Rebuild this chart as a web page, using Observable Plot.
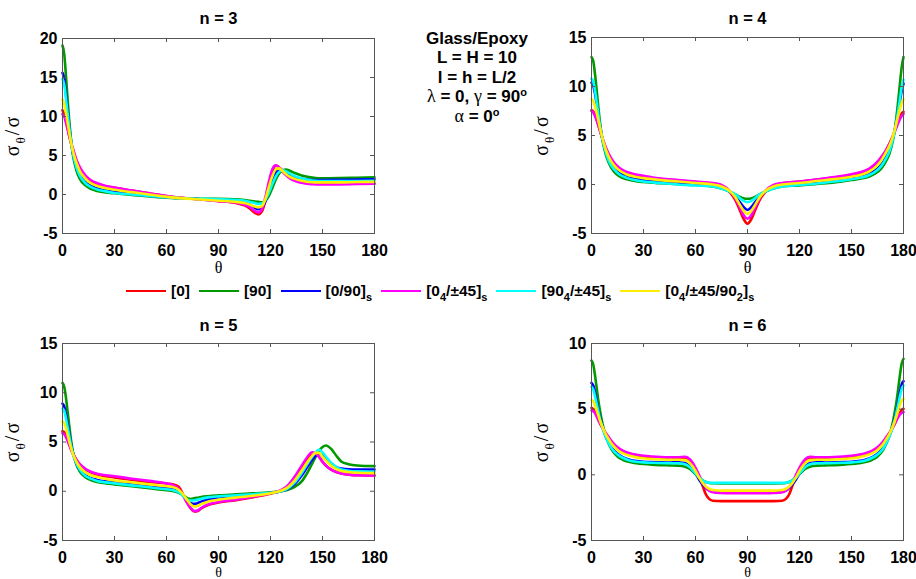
<!DOCTYPE html>
<html><head><meta charset="utf-8">
<script src="https://cdn.jsdelivr.net/npm/d3@7"></script>
<script src="https://cdn.jsdelivr.net/npm/@observablehq/plot@0.6"></script>
<style>
body{margin:0;background:#fff;}
#fig{position:relative;width:916px;height:579px;overflow:hidden;background:#fff;font-family:"Liberation Sans",Arial,sans-serif;color:#000;}
.panel{position:absolute;}
#legend{position:absolute;left:126px;top:281px;height:20px;display:flex;align-items:center;font-weight:bold;font-size:15.5px;white-space:nowrap;}
#legend .item{display:flex;align-items:center;margin-right:9px;}
#legend .sw{display:inline-block;width:40px;height:2.5px;margin-right:5px;}
#legend sub{font-size:11px;vertical-align:-5px;line-height:0;}
#note{position:absolute;left:377px;width:200px;top:29px;text-align:center;font-weight:bold;font-size:17px;line-height:19.4px;}
#note div{height:19.4px;}
#note .gr{font-family:"Liberation Serif",serif;font-weight:normal;font-size:18px;line-height:0;}
#note sup{font-size:11px;vertical-align:6px;line-height:0;}
</style></head><body><div id="fig"></div>
<script>
// ---------- data ----------
const seriesLabels = ["[0]","[90]","[0/90]<sub>s</sub>","[0<sub>4</sub>/±45]<sub>s</sub>","[90<sub>4</sub>/±45]<sub>s</sub>","[0<sub>4</sub>/±45/90<sub>2</sub>]<sub>s</sub>"];
const seriesColors = ["#ff0000","#009900","#0000ff","#ff00ff","#00ffff","#ffee00"];
const xTicks = [0,30,60,90,120,150,180];

// n = 3
const theta3 = [0,1,2,3,4,5,6,8,10,13,16,20,25,30,40,50,60,70,80,90,100,105,108,111,113,115,117,119,121,123,125,127,129,131,134,138,142,146,150,160,170,180];
const n3Red =     [10.8,10.3,9.4,8.4,7.4,6.5,5.7, 4.3,3.3,2.3,1.75,1.35,1.05,0.85, 0.5,0.15,-0.2,-0.45,-0.65,-0.85,-1.1, -1.4,-1.8,-2.35,-2.55,-2.2,-0.8,1.2, 2.9,3.7,3.5,3.0,2.6,2.25,1.9, 1.6,1.45,1.4,1.38,1.38,1.4,1.42];
const n3Green =   [19.1,18.0,15.2,12.0,9.2,6.9,5.1, 3.1,2.0,1.2,0.75,0.45,0.25,0.15, -0.05,-0.25,-0.4,-0.5,-0.55,-0.55,-0.6, -0.7,-0.8,-0.9,-0.95,-1.0,-0.8,-0.2, 0.8,1.9,2.7,3.1,3.2,3.05,2.75, 2.45,2.25,2.12,2.08,2.1,2.15,2.2];
const n3Blue =    [15.6,14.8,12.8,10.6,8.5,6.7,5.3, 3.6,2.5,1.6,1.15,0.8,0.5,0.35, 0.1,-0.15,-0.35,-0.5,-0.6,-0.75,-0.9, -1.05,-1.3,-1.7,-1.9,-1.7,-0.9,0.4, 1.8,2.8,3.25,3.1,2.8,2.5,2.2, 2.0,1.9,1.85,1.85,1.88,1.92,1.95];
const n3Magenta = [10.3,10.0,9.2,8.3,7.4,6.6,5.9, 4.5,3.5,2.5,1.9,1.45,1.1,0.9, 0.5,0.15,-0.2,-0.45,-0.65,-0.85,-1.05, -1.3,-1.6,-2.1,-2.3,-1.9,-0.4,1.6, 3.2,3.75,3.4,2.9,2.45,2.1,1.75, 1.5,1.35,1.3,1.28,1.3,1.35,1.38];
const n3Cyan =    [14.8,14.1,12.3,10.3,8.4,6.7,5.3, 3.5,2.4,1.5,1.0,0.65,0.4,0.2, 0.0,-0.2,-0.35,-0.5,-0.55,-0.6,-0.7, -0.8,-0.95,-1.1,-1.2,-1.15,-0.7,0.2, 1.3,2.3,2.9,3.1,2.95,2.7,2.35, 2.05,1.85,1.75,1.72,1.72,1.74,1.75];
const n3Yellow =  [12.2,11.6,10.4,9.1,7.8,6.6,5.6, 4.1,3.0,2.1,1.5,1.1,0.8,0.6, 0.3,0.0,-0.3,-0.5,-0.65,-0.8,-0.95, -1.1,-1.3,-1.55,-1.65,-1.5,-0.6,0.9, 2.3,3.2,3.35,3.0,2.6,2.3,2.0, 1.75,1.6,1.55,1.55,1.55,1.6,1.62];

// n = 4
const theta4 = [0,1,2,3,4,5,6,8,10,13,16,20,25,30,40,50,60,70,75,80,83,86,88,90,92,94,97,100,105,110,120,130,140,150,155,160,164,167,170,172,174,175,176,177,178,179,180];
const n4Red =     [7.6,7.45,7.1,6.6,6.0,5.4,4.85, 3.8,3.0,2.15,1.6,1.2,0.95,0.8, 0.55,0.4,0.25,0.1,-0.1,-0.8,-1.6, -2.8,-3.6,-4.0, -3.6,-2.8,-1.6,-0.8,-0.1,0.1,0.3,0.5,0.7,1.0,1.2,1.55,2.1,2.7,3.5,4.2,5.0,5.5,6.0,6.5,6.9,7.25,7.4];
const n4Green =   [13.0,12.6,11.3,9.6,7.8,6.2,4.9, 3.2,2.2,1.3,0.85,0.55,0.35,0.25, 0.12,0.02,-0.05,-0.2,-0.4,-0.75,-1.0, -1.3,-1.42,-1.46, -1.42,-1.3,-1.0,-0.75,-0.4,-0.2,-0.1,0.05,0.2,0.45,0.6,0.8,1.15,1.6,2.4,3.2,4.6,5.6,7.0,8.6,10.4,12.0,13.0];
const n4Blue =    [10.4,10.1,9.3,8.2,7.0,5.9,4.9, 3.5,2.55,1.7,1.2,0.85,0.6,0.45, 0.3,0.15,0.05,-0.1,-0.3,-0.75,-1.2, -1.9,-2.35,-2.6, -2.35,-1.9,-1.2,-0.75,-0.3,-0.1,0.05,0.2,0.4,0.65,0.8,1.05,1.5,2.0,2.9,3.6,4.8,5.6,6.5,7.5,8.6,9.6,10.3];
const n4Magenta = [7.5,7.35,7.0,6.55,6.0,5.45,4.9, 3.9,3.1,2.25,1.7,1.3,1.05,0.9, 0.6,0.45,0.3,0.15,-0.05,-0.7,-1.4, -2.5,-3.2,-3.5, -3.2,-2.5,-1.4,-0.7,-0.05,0.15,0.3,0.5,0.75,1.05,1.25,1.6,2.15,2.75,3.5,4.2,4.95,5.4,5.85,6.3,6.7,7.0,7.2];
const n4Cyan =    [10.8,10.5,9.6,8.4,7.1,5.9,4.9, 3.4,2.4,1.55,1.05,0.7,0.45,0.3, 0.15,0.0,-0.1,-0.2,-0.4,-0.75,-1.0, -1.45,-1.7,-1.8, -1.7,-1.45,-1.0,-0.75,-0.4,-0.2,-0.05,0.1,0.3,0.55,0.7,0.95,1.35,1.85,2.7,3.45,4.7,5.5,6.5,7.6,8.8,10.0,10.7];
const n4Yellow =  [8.7,8.5,8.0,7.3,6.5,5.7,4.95, 3.7,2.8,1.95,1.45,1.05,0.8,0.65, 0.45,0.3,0.15,0.0,-0.2,-0.7,-1.3, -2.2,-2.75,-3.0, -2.75,-2.2,-1.3,-0.7,-0.2,0.0,0.15,0.35,0.55,0.8,0.98,1.3,1.8,2.4,3.3,4.0,5.0,5.65,6.35,7.05,7.75,8.35,8.7];

// n = 5
const theta5 = [0,1,2,3,4,5,6,8,10,13,16,20,25,30,40,50,60,64,67,70,72,74,76,78,80,84,90,100,110,120,126,130,134,138,141,144,146,148,150,152,155,158,161,165,170,180];
const n5Red =     [6.1,6.0,5.65,5.2,4.7,4.25,3.85, 3.2,2.7,2.25,1.95,1.7,1.52,1.4, 1.15,0.95,0.78,0.68,0.45,-0.5,-1.2, -1.75,-2.05,-2.0,-1.75,-1.4,-1.15,-0.9, -0.6,-0.25,0.05,0.5,1.35,2.45,3.25, 3.75,3.8,3.5,3.0,2.6,2.2,1.95, 1.8,1.7,1.62,1.6];
const n5Green =   [11.0,10.6,9.5,8.0,6.5,5.1,4.0, 2.7,2.0,1.45,1.15,0.95,0.8,0.7, 0.5,0.3,0.1,0.0,-0.15,-0.45,-0.7, -0.78,-0.72,-0.65,-0.58,-0.5,-0.42,-0.32, -0.22,-0.1,0.0,0.15,0.45,1.0,1.8, 2.8,3.5,4.1,4.5,4.65,4.3,3.6, 3.0,2.75,2.62,2.55];
const n5Blue =    [8.9,8.6,7.8,6.8,5.7,4.7,3.9, 2.85,2.2,1.65,1.35,1.15,1.0,0.9, 0.7,0.5,0.3,0.2,0.0,-0.5,-0.95, -1.2,-1.28,-1.2,-1.05,-0.85,-0.7,-0.55, -0.38,-0.18,0.0,0.25,0.75,1.6,2.4, 3.2,3.6,3.8,3.6,3.25,2.8,2.45, 2.3,2.22,2.2,2.2];
const n5Magenta = [5.9,5.8,5.5,5.1,4.65,4.2,3.8, 3.2,2.75,2.3,2.0,1.78,1.62,1.52, 1.27,1.05,0.8,0.6,0.25,-0.6,-1.2, -1.7,-2.0,-1.95,-1.7,-1.35,-1.1,-0.85, -0.55,-0.2,0.1,0.6,1.5,2.6,3.4, 3.95,3.85,3.5,3.0,2.6,2.2,1.95, 1.8,1.7,1.62,1.6];
const n5Cyan =    [8.4,8.15,7.4,6.45,5.5,4.6,3.85, 2.85,2.2,1.6,1.3,1.05,0.9,0.8, 0.6,0.4,0.2,0.1,-0.1,-0.55,-0.85, -0.95,-0.92,-0.85,-0.75,-0.62,-0.52,-0.42, -0.3,-0.15,0.0,0.3,0.9,1.85,2.7, 3.5,3.95,4.2,3.95,3.5,2.9,2.45, 2.2,2.08,2.02,2.0];
const n5Yellow =  [7.1,6.9,6.4,5.7,5.0,4.35,3.8, 3.0,2.45,1.95,1.65,1.45,1.25,1.1, 0.9,0.7,0.5,0.4,0.15,-0.4,-0.9, -1.35,-1.55,-1.5,-1.3,-1.05,-0.85,-0.65, -0.45,-0.2,0.05,0.4,1.1,2.1,2.9, 3.6,3.9,3.9,3.5,3.1,2.6,2.25, 2.05,1.95,1.88,1.84];

// n = 6
const theta6 = [0,1,2,3,4,5,6,8,10,12,15,18,22,26,30,35,40,45,50,54,57,60,62,64,66,68,70,75,80,90,100,105,110,112,114,116,118,120,123,126,130,135,140,145,150,154,158,162,165,168,170,172,174,175,176,177,178,179,180];
const n6Red =     [5.1,5.0,4.8,4.5,4.2,3.9,3.65, 3.2,2.8,2.45,2.05,1.8,1.6,1.48, 1.4,1.33,1.29,1.27,1.28,1.27,1.0, 0.4,-0.2,-0.8,-1.5,-1.85,-1.97,-2.0, -2.0,-2.0, -2.0,-2.0,-1.97,-1.85,-1.5,-0.8,-0.2, 0.4,1.0,1.27,1.28,1.27,1.29,1.33, 1.4,1.48,1.6,1.8,2.05,2.45,2.8, 3.2,3.65,3.9,4.2,4.5,4.75,4.95,5.03];
const n6Green =   [8.7,8.4,7.6,6.6,5.6,4.8,4.1, 3.05,2.35,1.85,1.4,1.15,0.97,0.88, 0.82,0.77,0.74,0.72,0.7,0.62,0.42, 0.05,-0.2,-0.4,-0.55,-0.62,-0.64,-0.65, -0.65,-0.65, -0.65,-0.65,-0.64,-0.62,-0.55,-0.4,-0.2, 0.05,0.42,0.62,0.7,0.72,0.74,0.77, 0.82,0.88,0.97,1.15,1.4,1.85,2.35, 3.05,4.1,4.8,5.6,6.6,7.65,8.5,8.83];
const n6Blue =    [7.0,6.8,6.3,5.6,4.9,4.3,3.8, 3.0,2.45,2.0,1.6,1.35,1.15,1.05, 1.0,0.97,0.95,0.94,0.95,0.9,0.6, 0.1,-0.35,-0.7,-1.0,-1.2,-1.28,-1.3, -1.32,-1.32, -1.32,-1.3,-1.28,-1.2,-1.0,-0.7,-0.35, 0.1,0.6,0.9,0.95,0.94,0.95,0.97, 1.0,1.05,1.15,1.35,1.6,2.0,2.45, 3.0,3.8,4.3,4.9,5.6,6.35,6.9,7.13];
const n6Magenta = [4.9,4.85,4.7,4.45,4.15,3.9,3.65, 3.2,2.85,2.5,2.1,1.85,1.65,1.53, 1.45,1.39,1.35,1.33,1.34,1.38,1.15, 0.55,0.0,-0.55,-0.95,-1.2,-1.32,-1.38, -1.4,-1.4, -1.4,-1.38,-1.32,-1.2,-0.95,-0.55,0.0, 0.55,1.15,1.38,1.34,1.33,1.35,1.39, 1.45,1.53,1.65,1.85,2.1,2.5,2.85, 3.2,3.65,3.9,4.15,4.4,4.6,4.72,4.77];
const n6Cyan =    [6.7,6.5,6.0,5.4,4.8,4.2,3.75, 2.95,2.4,1.95,1.55,1.3,1.1,1.0, 0.95,0.92,0.9,0.89,0.88,0.8,0.55, 0.1,-0.2,-0.42,-0.55,-0.6,-0.61,-0.61, -0.61,-0.61, -0.61,-0.61,-0.61,-0.6,-0.55,-0.42,-0.2, 0.1,0.55,0.8,0.88,0.89,0.9,0.92, 0.95,1.0,1.1,1.3,1.55,1.95,2.4, 2.95,3.75,4.2,4.8,5.4,6.05,6.55,6.8];
const n6Yellow =  [5.7,5.6,5.3,4.9,4.5,4.1,3.75, 3.15,2.7,2.3,1.9,1.65,1.45,1.33, 1.26,1.2,1.17,1.15,1.15,1.12,0.85, 0.3,-0.2,-0.6,-0.9,-1.08,-1.15,-1.2, -1.2,-1.2, -1.2,-1.2,-1.15,-1.08,-0.9,-0.6,-0.2, 0.3,0.85,1.12,1.15,1.15,1.17,1.2, 1.26,1.33,1.45,1.65,1.9,2.3,2.7, 3.15,3.75,4.1,4.5,4.9,5.35,5.65,5.79];

const yTicks3 = [-5,0,5,10,15,20];
const yTicks4 = [-5,0,5,10,15];
const yTicks5 = [-5,0,5,10,15];
const yTicks6 = [-5,0,5,10];

// ---------- drawing ----------
const axisColor = "#555";
const fig = document.getElementById("fig");

function panel(cfg) {
  const {theta, series, yTicks, title, left, top, width, height, mL, mR, mT, mB} = cfg;
  const fw = width - mL - mR, fh = height - mT - mB;
  const tick = 4;
  const marks = [
    ...series.map((vals, k) => Plot.line(theta.map((t, i) => ({t, v: vals[i]})),
        {x: "t", y: "v", stroke: seriesColors[k], strokeWidth: 2.6, curve: "monotone-x"})),
    Plot.tickX(xTicks, {x: d => d, insetTop: fh - tick, stroke: axisColor}),
    Plot.tickX(xTicks, {x: d => d, insetBottom: fh - tick, stroke: axisColor}),
    Plot.tickY(yTicks, {y: d => d, insetRight: fw - tick, stroke: axisColor}),
    Plot.tickY(yTicks, {y: d => d, insetLeft: fw - tick, stroke: axisColor}),
    Plot.frame({stroke: axisColor}),
    Plot.axisX({ticks: xTicks, tickSize: 0, tickPadding: 11, label: null, tickFormat: d => String(d),
        fontSize: 16, fontWeight: "bold", fill: "#000"}),
    Plot.axisY({ticks: yTicks, tickSize: 0, tickPadding: 5, label: null, tickFormat: d => String(d),
        fontSize: 16, fontWeight: "bold", fill: "#000"}),
    Plot.text([title], {text: d => d, frameAnchor: "top", dy: cfg.titleDy, lineAnchor: "bottom",
        fontSize: 16.5, fontWeight: "bold", fill: "#000"}),
    Plot.text(["θ"], {text: d => d, frameAnchor: "bottom", dy: cfg.xLabelDy, lineAnchor: "middle",
        fontSize: cfg.xLabelSize, fontFamily: "Liberation Serif, serif", fill: "#000"})
  ];
  const svg = Plot.plot({
    width, height, marginLeft: mL, marginRight: mR, marginTop: mT, marginBottom: mB,
    x: {domain: [0, 180]},
    y: {domain: [yTicks[0], yTicks[yTicks.length - 1]]},
    style: {background: "transparent", fontFamily: "Liberation Sans, Arial, sans-serif", color: "#000", overflow: "visible"},
    marks
  });
  const g = d3.select(svg).append("text")
    .attr("transform", `translate(${mL - 43},${mT + fh / 2}) rotate(-90)`)
    .attr("text-anchor", "middle")
    .attr("font-family", "Liberation Serif, serif")
    .attr("font-size", 20)
    .attr("letter-spacing", 2)
    .attr("fill", "#000");
  g.append("tspan").text("σ");
  g.append("tspan").attr("font-size", 13).attr("dy", 6).text("θ");
  g.append("tspan").attr("dy", -6).text("/σ");
  svg.classList.add("panel");
  svg.style.left = left + "px";
  svg.style.top = top + "px";
  svg.style.position = "absolute";
  fig.appendChild(svg);
}

panel({theta: theta3, series: [n3Red, n3Green, n3Blue, n3Magenta, n3Cyan, n3Yellow], yTicks: yTicks3, title: "n = 3",
  left: 0, top: 0, width: 410, height: 280, mL: 62, mR: 36, mT: 38, mB: 47, titleDy: -15, xLabelDy: 34, xLabelSize: 16});
panel({theta: theta4, series: [n4Red, n4Green, n4Blue, n4Magenta, n4Cyan, n4Yellow], yTicks: yTicks4, title: "n = 4",
  left: 540, top: 0, width: 376, height: 280, mL: 51, mR: 13, mT: 37, mB: 47, titleDy: -14, xLabelDy: 34, xLabelSize: 16});
panel({theta: theta5, series: [n5Red, n5Green, n5Blue, n5Magenta, n5Cyan, n5Yellow], yTicks: yTicks5, title: "n = 5",
  left: 0, top: 300, width: 410, height: 279, mL: 62, mR: 36, mT: 43, mB: 39, titleDy: -13, xLabelDy: 32, xLabelSize: 14});
panel({theta: theta6, series: [n6Red, n6Green, n6Blue, n6Magenta, n6Cyan, n6Yellow], yTicks: yTicks6, title: "n = 6",
  left: 540, top: 300, width: 376, height: 279, mL: 51, mR: 13, mT: 43, mB: 39, titleDy: -13, xLabelDy: 32, xLabelSize: 14});

// legend
const legend = document.createElement("div");
legend.id = "legend";
legend.innerHTML = seriesLabels.map((lab, k) =>
  `<span class="item"><span class="sw" style="background:${seriesColors[k]}"></span><span>${lab}</span></span>`).join("");
fig.appendChild(legend);

// annotation
const note = document.createElement("div");
note.id = "note";
note.innerHTML = `<div>Glass/Epoxy</div><div>L = H = 10</div><div>l = h = L/2</div><div><span class="gr">λ</span> = 0, <span class="gr">γ</span> = 90<sup>o</sup></div><div><span class="gr">α</span> = 0<sup>o</sup></div>`;
fig.appendChild(note);
</script>
</body></html>
